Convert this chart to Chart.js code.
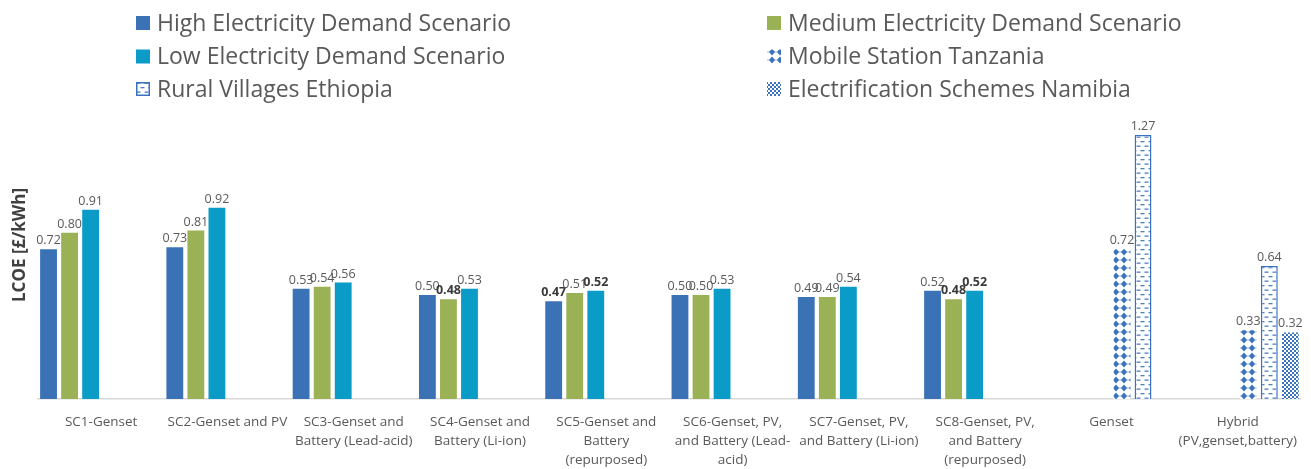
<!DOCTYPE html>
<html>
<head>
<meta charset="utf-8">
<script src="https://cdn.jsdelivr.net/npm/chart.js@4.4.1/dist/chart.umd.min.js"></script>
<style>
  html, body { margin: 0; padding: 0; background: #fff; }
</style>
</head>
<body>
<canvas id="chart" width="1311" height="469"></canvas>
<script>
// categories (x axis)
const categories = [
  'SC1-Genset',
  'SC2-Genset and PV',
  ['SC3-Genset and', 'Battery (Lead-acid)'],
  ['SC4-Genset and', 'Battery (Li-ion)'],
  ['SC5-Genset and', 'Battery', '(repurposed)'],
  ['SC6-Genset, PV,', 'and Battery (Lead-', 'acid)'],
  ['SC7-Genset, PV,', 'and Battery (Li-ion)'],
  ['SC8-Genset, PV,', 'and Battery', '(repurposed)'],
  'Genset',
  ['Hybrid', '(PV,genset,battery)']
];

// LCOE values [£/kWh]
const highDemand   = [0.72, 0.73, 0.53, 0.50, 0.47, 0.50, 0.49, 0.52, null, null];
const mediumDemand = [0.80, 0.81, 0.54, 0.48, 0.51, 0.50, 0.49, 0.48, null, null];
const lowDemand    = [0.91, 0.92, 0.56, 0.53, 0.52, 0.53, 0.54, 0.52, null, null];
const tanzania     = [null, null, null, null, null, null, null, null, 0.72, 0.33];
const ethiopia     = [null, null, null, null, null, null, null, null, 1.27, 0.64];
const namibia      = [null, null, null, null, null, null, null, null, null, 0.32];

// value labels printed in bold (dataset index -> category indexes)
const boldLabels = { 0: [4], 1: [3, 7], 2: [4, 7] };

const yTitle = 'LCOE [£/kWh]';

const FONT = "'Open Sans', 'Liberation Sans', sans-serif";
const TEXT = '#595959';
const BLUE = '#3a72c0';

// パターン作成
function makePattern(w, h, draw) {
  const c = document.createElement('canvas');
  c.width = w; c.height = h;
  const g = c.getContext('2d');
  draw(g);
  return g.createPattern(c, 'repeat');
}

const diamondPattern = makePattern(8, 8, g => {
  g.fillStyle = '#fff';
  g.fillRect(0, 0, 8, 8);
  g.fillStyle = 'rgba(58,114,192,0.5)';
  g.fillRect(0, 3.5, 8, 1);
  g.fillStyle = BLUE;
  g.beginPath();
  g.moveTo(4, 0.6); g.lineTo(7, 4); g.lineTo(4, 7.4); g.lineTo(1, 4);
  g.closePath();
  g.fill();
});

const dashPattern = makePattern(8, 9, g => {
  g.fillStyle = '#fff';
  g.fillRect(0, 0, 8, 9);
  g.fillStyle = 'rgba(58,114,192,0.9)';
  g.fillRect(0.5, 1.5, 4, 1.3);
  g.fillRect(4.5, 6, 3.5, 1.3);
  g.fillRect(0, 6, 0.5, 1.3);
});

const checkPattern = makePattern(4, 4, g => {
  g.fillStyle = '#fff';
  g.fillRect(0, 0, 4, 4);
  g.fillStyle = BLUE;
  g.fillRect(0, 0, 2, 2);
  g.fillRect(2, 2, 2, 2);
});

// 凡例（2列）と縦軸タイトル
const legendTwoCols = {
  id: 'legendTwoCols',
  afterDraw(chart) {
    const ctx = chart.ctx;
    const colX = [136, 767];
    const rowY = [23, 56.5, 89];
    const box = 14;
    ctx.save();
    ctx.font = '23px ' + FONT;
    ctx.textBaseline = 'middle';
    chart.data.datasets.forEach((ds, i) => {
      const x = colX[i % 2];
      const y = rowY[Math.floor(i / 2)];
      ctx.fillStyle = ds.backgroundColor;
      ctx.fillRect(x, y - box / 2, box, box);
      if (ds.borderWidth) {
        ctx.strokeStyle = ds.borderColor;
        ctx.lineWidth = 1.5;
        ctx.strokeRect(x + 0.75, y - box / 2 + 0.75, box - 1.5, box - 1.5);
      }
      ctx.fillStyle = TEXT;
      ctx.fillText(ds.label, x + 21, y + 1);
    });

    // y axis title
    ctx.translate(19, 245);
    ctx.rotate(-Math.PI / 2);
    ctx.textAlign = 'center';
    ctx.font = 'bold 17px ' + FONT;
    ctx.fillStyle = '#404040';
    ctx.fillText(yTitle, 0, 1);
    ctx.restore();
  }
};

// 棒の上の数値
const valueLabels = {
  id: 'valueLabels',
  afterDatasetsDraw(chart) {
    const ctx = chart.ctx;
    ctx.save();
    ctx.textAlign = 'center';
    ctx.textBaseline = 'alphabetic';
    chart.data.datasets.forEach((ds, i) => {
      const meta = chart.getDatasetMeta(i);
      meta.data.forEach((bar, j) => {
        const v = ds.data[j];
        if (v == null) return;
        const bold = (boldLabels[i] || []).includes(j);
        ctx.font = (bold ? 'bold ' : '') + '12.5px ' + FONT;
        ctx.fillStyle = bold ? '#3a3a3a' : TEXT;
        ctx.fillText(v.toFixed(2), bar.x, bar.y - 5);
      });
    });
    ctx.restore();
  }
};

const ctx = document.getElementById('chart').getContext('2d');
const myChart = new Chart(ctx, {
  type: 'bar',
  data: {
    labels: categories,
    datasets: [
      { label: 'High Electricity Demand Scenario', data: highDemand, backgroundColor: '#3a72b5' },
      { label: 'Medium Electricity Demand Scenario', data: mediumDemand, backgroundColor: '#9bb155' },
      { label: 'Low Electricity Demand Scenario', data: lowDemand, backgroundColor: '#0a9bc6' },
      { label: 'Mobile Station Tanzania', data: tanzania, backgroundColor: diamondPattern },
      { label: 'Rural Villages Ethiopia', data: ethiopia, backgroundColor: dashPattern,
        borderColor: BLUE, borderWidth: 1.5 },
      { label: 'Electrification Schemes Namibia', data: namibia, backgroundColor: checkPattern }
    ]
  },
  options: {
    responsive: false,
    animation: false,
    devicePixelRatio: 1,
    layout: {
      padding: { top: 108, left: 38, right: 1, bottom: -15 }
    },
    datasets: {
      bar: { categoryPercentage: 1.0, barPercentage: 0.8 }
    },
    plugins: {
      legend: { display: false },
      tooltip: { enabled: false }
    },
    scales: {
      x: {
        grid: { display: false, drawTicks: false },
        border: { display: true, color: '#d9d9d9', width: 1.5 },
        ticks: {
          color: TEXT,
          font: { family: FONT, size: 13.5, lineHeight: 1.41 },
          padding: 14,
          maxRotation: 0,
          autoSkip: false
        }
      },
      y: {
        display: false,
        min: 0,
        max: 1.4
      }
    }
  },
  plugins: [legendTwoCols, valueLabels]
});
</script>
</body>
</html>
